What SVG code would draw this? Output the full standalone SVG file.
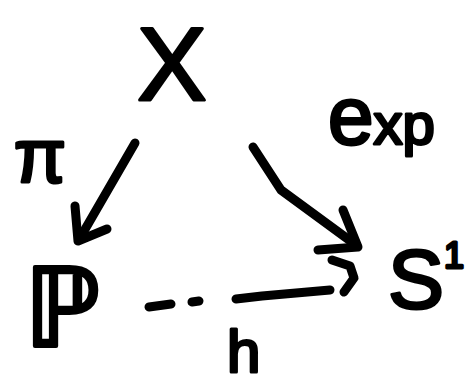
<svg xmlns="http://www.w3.org/2000/svg" width="474" height="388" viewBox="0 0 474 388">
<style>
.t{font-family:"Liberation Sans","DejaVu Sans",sans-serif;fill:#000;stroke:#000;stroke-linejoin:round}
.c{fill:none;stroke:#000;stroke-width:9;stroke-linecap:round;stroke-linejoin:round}
</style>
<rect width="474" height="388" fill="#fff"/>
<g id="node-X"><text class="t" x="172" y="100" font-size="104" text-anchor="middle" stroke-width="3">X</text></g>
<g id="node-P"><text class="t" x="62" y="346" font-size="108" text-anchor="middle" stroke-width="4" style="font-family:'DejaVu Sans',sans-serif">ℙ</text></g>
<g id="node-S1"><text class="t" x="388" y="308" font-size="84" stroke-width="3">S<tspan font-size="36" dy="-40">1</tspan></text></g>
<g id="connectors">
<g id="edge-pi">
<path class="c" d="M135,143 L80,238"/>
<path class="c" d="M75,206 L78,241 L107,229"/>
<text class="t" x="40" y="182" font-size="76" text-anchor="middle" stroke-width="3">π</text>
</g>
<g id="edge-exp">
<path class="c" d="M253,147 L281,190 L356,245"/>
<path class="c" d="M343,210 L358,247 L318,250"/>
<text class="t" x="328" y="144" font-size="82" stroke-width="3">e<tspan font-size="58">xp</tspan></text>
</g>
<g id="edge-h">
<path class="c" d="M149,307 L171,304 M192,302 L199,301 M236,299 L262,296 L330,290" stroke-width="8"/>
<path class="c" d="M332,260 L350,266 L354,278 L344,292"/>
<text class="t" x="227" y="372" font-size="60" stroke-width="3">h</text>
</g>
</g>
</svg>
